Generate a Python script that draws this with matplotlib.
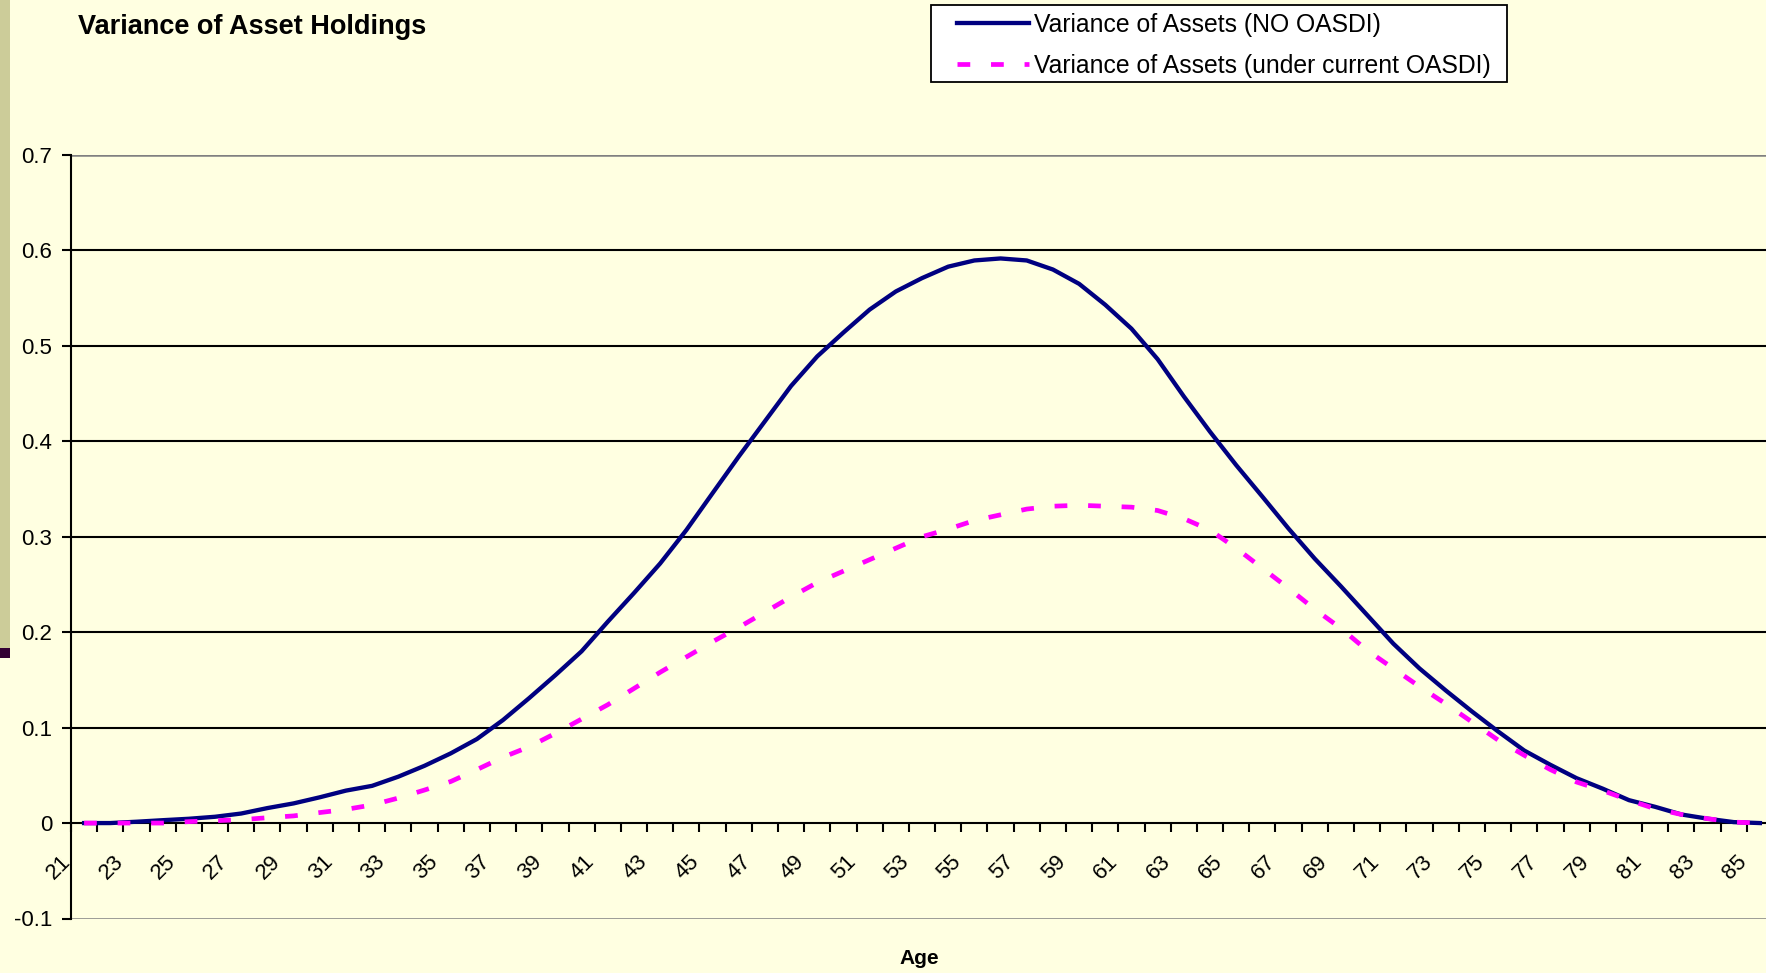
import matplotlib
matplotlib.use("Agg")
import matplotlib.pyplot as plt
import matplotlib.transforms as mtransforms
from matplotlib.patches import Rectangle

plt.rcParams['font.family'] = ['Liberation Sans', 'DejaVu Sans']

# data
ages = list(range(21, 86))
no_oasdi = [
    0.000, 0.000, 0.0014, 0.003, 0.0045, 0.0066, 0.010, 0.0157, 0.0206, 0.027,
    0.034, 0.039, 0.0486, 0.060, 0.073, 0.088, 0.108, 0.131, 0.155, 0.180,
    0.211, 0.241, 0.272, 0.307, 0.3456, 0.384, 0.421, 0.458, 0.489, 0.514,
    0.538, 0.557, 0.571, 0.583, 0.5895, 0.5916, 0.5895, 0.580, 0.565, 0.543,
    0.518, 0.486, 0.447, 0.410, 0.375, 0.342, 0.3085, 0.277, 0.248, 0.218,
    0.188, 0.162, 0.139, 0.117, 0.096, 0.076, 0.061, 0.047, 0.036, 0.024,
    0.017, 0.009, 0.0046, 0.001, 0.000,
]
current_oasdi = [
    0.000, 0.000, 0.000, 0.000, 0.0015, 0.0025, 0.0035, 0.0056, 0.0075, 0.011,
    0.0143, 0.019, 0.0262, 0.0346, 0.0435, 0.056, 0.069, 0.080, 0.094, 0.109,
    0.124, 0.141, 0.158, 0.174, 0.190, 0.205, 0.221, 0.237, 0.252, 0.264,
    0.276, 0.288, 0.300, 0.308, 0.317, 0.323, 0.329, 0.332, 0.333, 0.332,
    0.331, 0.3275, 0.319, 0.307, 0.288, 0.267, 0.246, 0.224, 0.204, 0.181,
    0.162, 0.143, 0.125, 0.106, 0.087, 0.071, 0.056, 0.043, 0.034, 0.024,
    0.015, 0.009, 0.0046, 0.001, 0.000,
]
y_ticks = [-0.1, 0.0, 0.1, 0.2, 0.3, 0.4, 0.5, 0.6, 0.7]
y_labels = ['-0.1', '0', '0.1', '0.2', '0.3', '0.4', '0.5', '0.6', '0.7']
x_label_ages = list(range(21, 86, 2))

series_labels = ['Variance of Assets (NO OASDI)', 'Variance of Assets (under current OASDI)']
title = 'Variance of Asset Holdings'

bg = '#FFFFE1'
W, H = 1766, 973
fig = plt.figure(figsize=(W / 100, H / 100), dpi=100, facecolor=bg)

# left decoration strip
fig.patches.append(Rectangle((0, 1 - 648 / H), 10 / W, 648 / H, transform=fig.transFigure,
                             facecolor='#CCCC99', edgecolor='none'))
fig.patches.append(Rectangle((0, 1 - 658 / H), 10 / W, 10 / H, transform=fig.transFigure,
                             facecolor='#330033', edgecolor='none'))

left, right = 71 / W, 1773 / W
top, bottom = 1 - 155 / H, 1 - 918.5 / H
ax = fig.add_axes([left, bottom, right - left, top - bottom])
ax.set_facecolor(bg)

ax.set_xlim(20.5, 85.5)
ax.set_ylim(-0.1, 0.7)

for y in y_ticks[2:-1]:
    ax.axhline(y, color='black', lw=1.5, zorder=1)
ax.axhline(0.7, color='#808080', lw=1.8, zorder=1)
ax.axhline(-0.1, color='#808080', lw=1.8, zorder=1)

l1, = ax.plot(ages, no_oasdi, color='#000080', lw=3.1, zorder=3)
l2, = ax.plot(ages, current_oasdi, color='#FF00FF', lw=3.4, zorder=4,
              dashes=(2.7, 4.4))

for s in ['top', 'right']:
    ax.spines[s].set_visible(False)
ax.spines['bottom'].set_position(('data', 0))
ax.spines['bottom'].set_linewidth(1.5)
ax.spines['left'].set_linewidth(1.5)
ax.spines['left'].set_zorder(5)

ax.set_yticks(y_ticks)
ax.set_yticklabels(y_labels, fontsize=16)
ax.tick_params(axis='y', direction='out', length=6.5, width=1.5, pad=7)

ax.set_xticks(x_label_ages)
ax.set_xticklabels([str(a) for a in x_label_ages], fontsize=16, rotation=45, ha='right')
ax.set_xticks([a - 0.5 for a in ages] + [85.5], minor=True)
ax.tick_params(axis='x', which='major', length=0, pad=20)
ax.tick_params(axis='x', which='minor', direction='out', length=6.5, width=1.5)
offset = mtransforms.ScaledTranslation(-0.09, 0, fig.dpi_scale_trans)
for lbl in ax.get_xticklabels():
    lbl.set_transform(lbl.get_transform() + offset)

fig.text(78 / W, 1 - 33.5 / H, title, fontsize=19.5, fontweight='bold', va='baseline', ha='left')
fig.text(919 / W, 1 - 958 / H, 'Age', fontsize=15, fontweight='bold', va='center', ha='center')

# legend frame drawn separately so the inner padding matches the original
fig.patches.append(Rectangle((931 / W, 1 - 82 / H), 576 / W, 77.5 / H, transform=fig.transFigure,
                             facecolor='white', edgecolor='black', lw=1.3, zorder=0))
leg = fig.legend([l1, l2], series_labels, loc='upper left',
                 bbox_to_anchor=(957 / W, 1 - 13 / H), fontsize=17.8, frameon=False,
                 handlelength=2.9, handletextpad=0.2, labelspacing=0.68, borderpad=0,
                 borderaxespad=0)

fig.savefig('out.png', dpi=100, facecolor=bg)
